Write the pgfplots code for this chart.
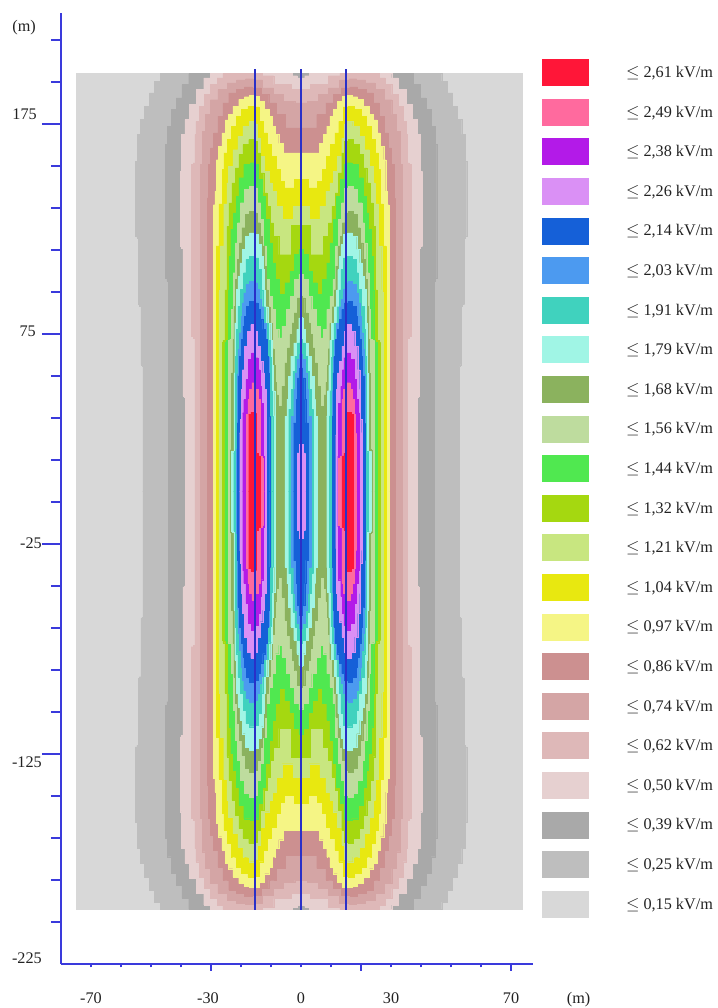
\documentclass[border=0pt]{standalone}
\usepackage{fontspec}
\setmainfont{Liberation Serif}
\usepackage{pgfplots}
\usepackage{pgfplotstable}
\pgfplotsset{compat=1.18}
\definecolor{c261}{HTML}{FF1638}
\definecolor{c249}{HTML}{FF6A9E}
\definecolor{c238}{HTML}{B31AE8}
\definecolor{c226}{HTML}{DA90F5}
\definecolor{c214}{HTML}{1560D8}
\definecolor{c203}{HTML}{4C9AF0}
\definecolor{c191}{HTML}{40D2BE}
\definecolor{c179}{HTML}{A0F5E5}
\definecolor{c168}{HTML}{8BB25E}
\definecolor{c156}{HTML}{BEDC9E}
\definecolor{c144}{HTML}{50E850}
\definecolor{c132}{HTML}{A5D810}
\definecolor{c121}{HTML}{C8E680}
\definecolor{c104}{HTML}{E8E810}
\definecolor{c097}{HTML}{F5F585}
\definecolor{c086}{HTML}{CC9090}
\definecolor{c074}{HTML}{D4A5A5}
\definecolor{c062}{HTML}{DEB8B8}
\definecolor{c050}{HTML}{E6D0D0}
\definecolor{c039}{HTML}{A9A9A9}
\definecolor{c025}{HTML}{BEBEBE}
\definecolor{c015}{HTML}{D8D8D8}
\definecolor{axb}{HTML}{3A3ADC}
\definecolor{cond}{HTML}{2A30C8}
\definecolor{txt}{HTML}{222222}
\pgfplotstableread[row sep=\\]{x y\\0 199\\45.8 199\\48 195.4\\49.7 189.8\\51.3 183.5\\53 177.1\\54.1 170\\55.2 157.3\\55.2 121.6\\54.3 120.8\\54.3 89\\53.4 88.2\\53.4 60.4\\52.7 59.8\\52.7 0\\0 0\\0 199\\}\tA
\pgfplotstableread[row sep=\\]{x y\\0 199\\36.3 199\\38.6 193.8\\40.8 187.4\\42.4 181.9\\44.1 173.9\\45.2 165.2\\45.2 101.7\\44.3 100.1\\44.3 0\\0 0\\0 199\\}\tB
\pgfplotstableread[row sep=\\]{x y\\0 197\\2.4 198\\3.3 199\\29.1 199\\31.3 196.9\\33.6 191.4\\36.3 184.3\\38 177.1\\39.4 170\\40.3 152.5\\40.3 116.8\\39.4 116\\39.4 45.4\\38.6 45\\38.6 0\\0 0\\0 197\\}\tC
\pgfplotstableread[row sep=\\]{x y\\0 191.4\\6.3 193.8\\11.9 198\\14 199\\25.2 199\\26.9 197\\29.1 193.8\\31.3 189\\33.2 183.5\\34.7 176.3\\35.4 170\\35.4 156.5\\36.6 155.7\\36.6 73.9\\35.4 73.1\\35.4 0\\0 0\\0 191.4\\}\tD
\pgfplotstableread[row sep=\\]{x y\\0 185\\4.2 185.9\\7.5 189\\10.8 192.2\\14.9 196\\17 196.6\\20 196\\23 194.6\\26.3 191.4\\29.1 186.6\\31.3 179.5\\32.4 171.5\\33.6 155.7\\33.6 0\\0 0\\0 185\\}\tE
\pgfplotstableread[row sep=\\]{x y\\0 173.2\\3.5 173.2\\6.9 179.5\\9.7 185\\11.9 189\\14.9 192.2\\17.5 192.7\\20.2 191.4\\23 189.8\\25.2 185\\26.9 178.7\\28.6 170.8\\29.7 163.6\\30.6 155.7\\31.3 139.8\\31.3 0\\0 0\\0 173.2\\}\tF
\pgfplotstableread[row sep=\\]{x y\\0 161.3\\5.2 161.3\\6.9 165.8\\8 170\\9.1 174\\10.2 178.8\\11.3 182\\13 185.9\\14.7 188.3\\16.3 188.6\\18 188\\19.7 186.7\\21.9 183.5\\23.6 179.6\\24.7 177\\25.8 170.8\\26.9 164.4\\28.2 158\\28.2 143\\29.2 136.6\\29.3 0\\0 0\\0 161.3\\}\tG
\pgfplotstableread[row sep=\\]{x y\\0 148.6\\4.67 144.6\\6.3 147.8\\7.7 153.3\\9.1 159.7\\10.6 165.2\\11.9 170.8\\13.2 176.3\\14.9 183.2\\16.3 183.5\\19.1 181.9\\20.8 178.7\\22.5 174\\24.1 167.6\\25.2 161.3\\26.3 153.3\\26.3 137\\27.4 137\\27.4 117\\28.3 117\\28.3 0\\0 0\\0 148.6\\}\tH
\pgfplotstableread[row sep=\\]{x y\\0 135.9\\5.2 129.6\\7.4 135.9\\9.1 143\\10.2 147\\11.3 152.5\\13 159.7\\14.1 168.4\\14.9 175\\15.8 176.3\\18.6 174\\20.2 169.2\\21.9 162.8\\23.6 154.9\\24.7 147\\24.7 137\\25.8 137\\25.8 117\\26.9 117\\26.9 96\\27.4 95\\27.4 0\\0 0\\0 135.9\\}\tI
\pgfplotstableread[row sep=\\]{x y\\0 126.7\\6.3 112.8\\8.6 121.6\\9.7 127.9\\10.8 135.9\\11.9 142.2\\13 151.7\\14.1 161.3\\14.9 166.8\\16.3 167.6\\18.6 165.2\\20.2 160.5\\21.3 154.1\\22.5 147\\23.6 137.4\\24.5 126.3\\25 96\\25.8 72\\26.3 71\\26.3 0\\0 0\\0 126.7\\}\tJ
\pgfplotstableread[row sep=\\]{x y\\0 115.3\\1.5 112.9\\3 104.9\\4.5 99.4\\6.3 93.8\\8 101\\9.1 108.9\\10.2 118.4\\11.3 129.5\\12.4 140.7\\13.6 148.6\\14.9 155.8\\15.8 156.6\\18 155.8\\20.2 149.4\\21.3 140.7\\22 132.7\\23 124.8\\23.9 112\\24.1 96\\24.3 72\\25.4 71\\25.4 0\\0 0\\0 115.3\\}\tK
\pgfplotstableread[row sep=\\]{x y\\0 103.4\\1.5 101\\3 93\\4.1 86.7\\5.8 78.7\\6.9 73.2\\8 77.2\\9.1 86.7\\10.2 93\\11 101\\12 116.9\\13 129.5\\14 137.5\\15 144.6\\16.5 145.4\\18 143.8\\19.7 137.5\\20.8 128\\21.5 118.4\\22.3 104.2\\23 86.7\\23.3 72.4\\24.3 72\\24.3 0\\0 0\\0 103.4\\}\tL
\pgfplotstableread[row sep=\\]{x y\\0 93\\0.56 92.2\\1.9 85\\2.7 80.3\\3.3 74.8\\4.1 68.4\\4.9 61.3\\5.8 50.2\\6.9 40.6\\7.4 40.6\\8 46\\8.5 52\\8.9 60\\9.2 68\\9.9 80\\10.8 88\\11.3 96\\11.8 107.3\\12.7 116.9\\13.3 121.6\\14.2 128\\15 132.7\\16.5 133.5\\18 131.9\\19.2 125.6\\20.2 118.4\\20.9 110.5\\21.7 101\\22.3 88.3\\22.5 72.4\\23 56.5\\23.3 20\\23.6 19.5\\23.6 0\\0 0\\0 93\\}\tM
\pgfplotstableread[row sep=\\]{x y\\0 83\\0.56 82.7\\1 77.2\\1.9 70.8\\3 64.5\\3.9 54.9\\4.7 43.8\\4.7 35.9\\5.4 35.9\\5.4 0\\0 0\\0 83\\}\tNc
\pgfplotstableread[row sep=\\]{x y\\8.56 0\\8.56 36\\9 48\\9.4 60\\9.7 72\\10.5 80\\11.7 88\\12 96\\12.4 105.7\\12.9 112\\13.6 117.6\\14.7 122.4\\16.3 123.2\\18 121.6\\19.1 115.3\\20 108.9\\20.8 102.6\\21.3 96.2\\21.9 80.3\\22.3 56.5\\22.4 19.2\\23.33 19\\23.33 0\\8.56 0\\}\tNl
\pgfplotstableread[row sep=\\]{x y\\0 72.4\\0.8 70.8\\1.7 64.5\\2.4 57.3\\3 48.6\\3.6 39\\4.1 39\\4.1 0\\0 0\\0 72.4\\}\tOc
\pgfplotstableread[row sep=\\]{x y\\9.45 0\\9.45 36\\9.8 48\\10.2 64\\10.6 72\\11.3 80\\12.6 88\\13 96\\13.6 105.7\\14.7 111.3\\16.3 112\\18 110.5\\18.8 104.2\\19.5 96.2\\20.8 88.3\\21.3 77.2\\21.7 64.5\\22 19\\22.45 18.5\\22.45 0\\9.45 0\\}\tOl
\pgfplotstableread[row sep=\\]{x y\\0 65.2\\1 62.9\\1.7 56.5\\2.1 48.6\\2.8 35.9\\3.3 35.9\\3.3 0\\0 0\\0 65.2\\}\tPc
\pgfplotstableread[row sep=\\]{x y\\10.45 0\\10.45 36\\10.5 48\\10.9 64\\11.4 72\\12 80\\13.3 88\\13.6 91.4\\14.4 96.2\\14.9 99.4\\16.3 100.2\\18 98.6\\18.8 94.6\\19.4 89.8\\19.7 83.5\\20.3 75.6\\20.8 67.6\\21.3 56\\21.5 20\\21.5 0\\10.45 0\\}\tPl
\pgfplotstableread[row sep=\\]{x y\\0 58.9\\1 54.1\\1.4 43.8\\1.7 32.7\\2.45 32.7\\2.45 0\\0 0\\0 58.9\\}\tQc
\pgfplotstableread[row sep=\\]{x y\\10.45 0\\10.45 36\\10.8 56.5\\11.1 64.5\\11.7 72.4\\12.4 77.2\\13.2 81.9\\13.9 86.7\\14.9 89.8\\16.3 90.6\\18 88.3\\18.6 83.5\\19.1 78.7\\19.7 72.4\\20.2 64.5\\20.8 55\\21.3 32.7\\21.3 0\\10.45 0\\}\tQl
\pgfplotstableread[row sep=\\]{x y\\0 22.4\\1.33 18.4\\1.33 0\\0 0\\0 22.4\\}\tRc
\pgfplotstableread[row sep=\\]{x y\\11.56 0\\11.56 27\\11.9 48.6\\12.4 56.5\\13.2 62\\14.1 69.2\\14.9 76.4\\16.1 79.5\\17.45 76.4\\18.3 69.2\\19.45 58\\19.7 48.6\\20 34.3\\20.45 28\\20.45 0\\11.56 0\\}\tRl
\pgfplotstableread[row sep=\\]{x y\\12.2 0\\12.2 16.8\\12.8 42\\13.6 50\\13.9 58\\14.7 63.7\\15.8 66\\17.2 62.9\\18 53.3\\18.8 43.8\\19.45 37.5\\19.45 0\\12.2 0\\}\tS
\pgfplotstableread[row sep=\\]{x y\\12.5 0\\12.5 16\\13.6 16.8\\13.6 43.8\\14.7 48.6\\15.8 51.8\\16.9 48.6\\17.45 43.8\\18 36.7\\18.3 28\\18.3 0\\12.5 0\\}\tT
\pgfplotstableread[row sep=\\]{x y\\13.6 0\\13.6 17\\14.9 18.3\\14.9 37.2\\16 37.8\\17.45 36.7\\17.45 0\\13.6 0\\}\tU
\newcommand\lev[2]{%
\addplot[const plot mark mid,fill=#2,draw=#2,line width=0.2pt,forget plot] table[x=x,y=y]{#1};
\addplot[const plot mark mid,fill=#2,draw=#2,line width=0.2pt,forget plot] table[x expr=-\thisrow{x},y=y]{#1};
\addplot[const plot mark mid,fill=#2,draw=#2,line width=0.2pt,forget plot] table[x=x,y expr=-\thisrow{y}]{#1};
\addplot[const plot mark mid,fill=#2,draw=#2,line width=0.2pt,forget plot] table[x expr=-\thisrow{x},y expr=-\thisrow{y}]{#1};
}
\newcommand\lgi[2]{\addlegendimage{fill=#1,draw=none}\addlegendentry{\hspace*{37pt}$\leq$ #2 kV/m}}
\newcommand\tl[2]{\raisebox{#1}[10pt][0pt]{#2}}
\begin{document}
\begin{tikzpicture}
\useasboundingbox (0,0) rectangle (717pt,1008pt);
\begin{axis}[
  at={(61pt,44pt)},anchor=south west,
  x=3pt,y=2.1pt,
  xmin=-80,xmax=77.3,ymin=-225,ymax=227.9,
  axis y line=left,axis x line=none,
  axis line style={-,draw=axb,line width=1.4pt},
  clip=false,
  tick align=outside,
  major tick length=19pt,minor tick length=10pt,
  every tick/.style={draw=axb,line width=1.2pt},
  ytick={175,75,-25,-125},
  yticklabels={\tl{9pt}{175\hspace*{5pt}},\tl{2pt}{75\hspace*{6pt}},\tl{0pt}{-25},\tl{-9pt}{-125}},
  extra y ticks={-225},
  extra y tick labels={\tl{5pt}{-225}},
  extra y tick style={tick style={draw=none}},
  minor ytick={215,195,155,135,115,95,55,35,15,-5,-45,-65,-85,-105,-145,-165,-185,-205},
  yticklabel style={font=\fontsize{16.2}{18}\selectfont,text=txt,inner sep=0pt,xshift=0pt},
  ylabel={(m)},
  ylabel style={at={(axis description cs:-0.078,0.985)},rotate=-90,anchor=center,font=\fontsize{16.2}{18}\selectfont,text=txt},
  legend style={at={(axis description cs:1.019,0.9516)},anchor=north west,draw=none,fill=none,inner sep=0pt,
    row sep=12.6pt,font=\fontsize{16.2}{18}\selectfont,text=txt,
    nodes={inner sep=0pt}},
  legend cell align=left,
  legend image code/.code={\fill[#1] (0pt,-13.5pt) rectangle (47pt,13.5pt);},
]
\addplot[fill=c015,draw=none,forget plot] coordinates {(-75,-199.3)(74,-199.3)(74,199.1)(-75,199.1)};
\lev{\tA}{c025}
\lev{\tB}{c039}
\lev{\tC}{c050}
\lev{\tD}{c062}
\lev{\tE}{c074}
\lev{\tF}{c086}
\lev{\tG}{c097}
\lev{\tH}{c104}
\lev{\tI}{c121}
\lev{\tJ}{c132}
\lev{\tK}{c144}
\lev{\tL}{c156}
\lev{\tM}{c168}
\lev{\tNc}{c179}\lev{\tNl}{c179}
\lev{\tOc}{c191}\lev{\tOl}{c191}
\lev{\tPc}{c203}\lev{\tPl}{c203}
\lev{\tQc}{c214}\lev{\tQl}{c214}
\lev{\tRc}{c226}\lev{\tRl}{c226}
\lev{\tS}{c238}
\lev{\tT}{c249}
\lev{\tU}{c261}
\addplot[cond,line width=1.9pt,forget plot] coordinates {(-15.2,201)(-15.2,-199.3)};
\addplot[cond,line width=1.9pt,forget plot] coordinates {(0,201)(0,-199.3)};
\addplot[cond,line width=1.9pt,forget plot] coordinates {(15,201)(15,-199.3)};
\lgi{c261}{2,61}\lgi{c249}{2,49}\lgi{c238}{2,38}\lgi{c226}{2,26}\lgi{c214}{2,14}\lgi{c203}{2,03}
\lgi{c191}{1,91}\lgi{c179}{1,79}\lgi{c168}{1,68}\lgi{c156}{1,56}\lgi{c144}{1,44}\lgi{c132}{1,32}
\lgi{c121}{1,21}\lgi{c104}{1,04}\lgi{c097}{0,97}\lgi{c086}{0,86}\lgi{c074}{0,74}\lgi{c062}{0,62}
\lgi{c050}{0,50}\lgi{c039}{0,39}\lgi{c025}{0,25}\lgi{c015}{0,15}
\end{axis}
\begin{axis}[
  at={(61pt,44pt)},anchor=south west,
  x=3pt,y=2.1pt,
  xmin=-80,xmax=77.3,ymin=-225,ymax=227.9,
  axis y line=none,axis x line=bottom,
  axis line style={-,draw=axb,line width=1.4pt},
  clip=false,
  tick align=outside,
  major tick length=3.5pt,
  every tick/.style={draw=axb,line width=1.2pt},
  xtick={-70,-60,...,70},
  xticklabels={-70,,,,\hspace*{-6pt}-30,,,0,,,30,,,,70},
  extra x ticks={-30,20,70},
  extra x tick labels={},
  extra x tick style={major tick length=7pt},
  xticklabel style={font=\fontsize{16.2}{18}\selectfont,text=txt,inner sep=0pt,yshift=-25pt},
  ytick=\empty,
  xlabel={(m)},
  xlabel style={at={(axis description cs:1.097,-0.0378)},anchor=center,font=\fontsize{16.2}{18}\selectfont,text=txt},
]
\end{axis}
\end{tikzpicture}
\end{document}
